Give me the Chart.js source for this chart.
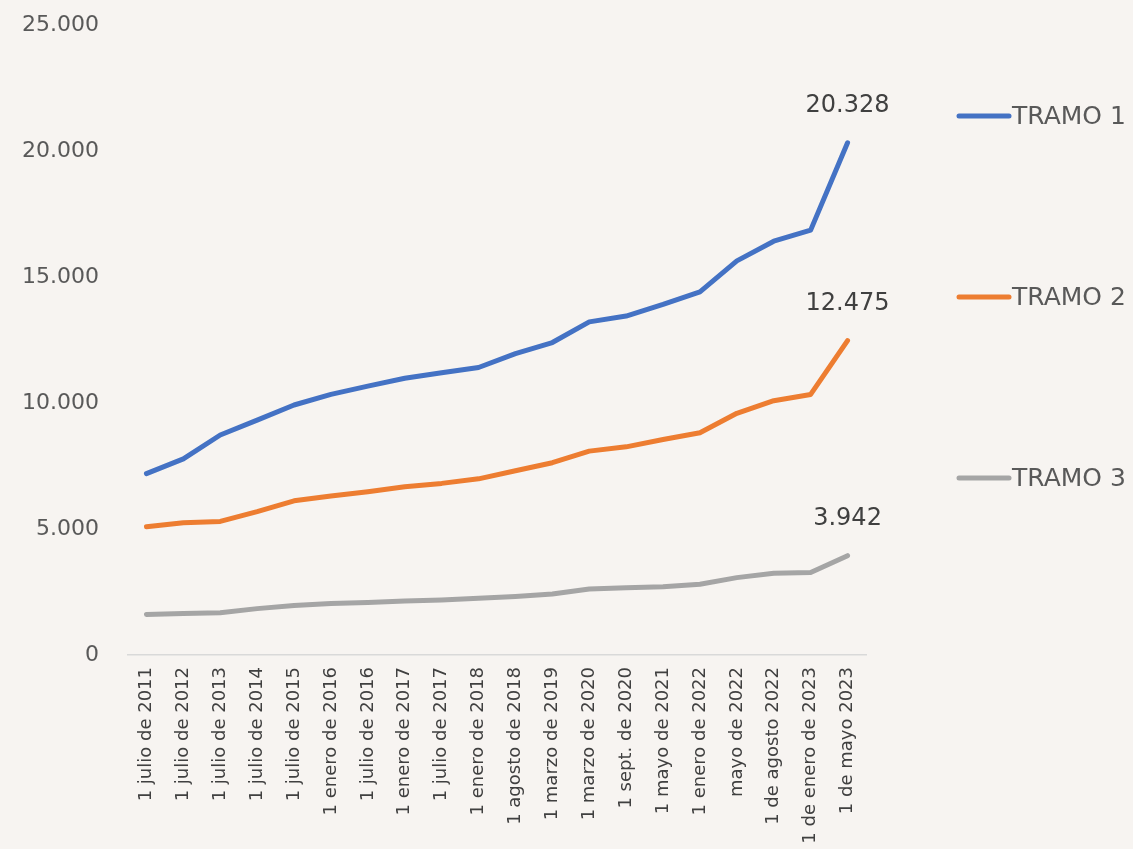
<!DOCTYPE html>
<html>
<head>
<meta charset="utf-8">
<script src="https://cdn.jsdelivr.net/npm/chart.js@4/dist/chart.umd.min.js"></script>
<style>
  html, body { margin: 0; padding: 0; background: #F7F4F1; }
  #wrap { width: 1133px; height: 849px; position: relative; }
</style>
</head>
<body>
<div id="wrap"><canvas id="chart"></canvas></div>
<script>
const labels = [
    '1 julio de 2011', '1 julio de 2012', '1 julio de 2013', '1 julio de 2014',
    '1 julio de 2015', '1 enero de 2016', '1 julio de 2016', '1 enero de 2017',
    '1 julio de 2017', '1 enero de 2018', '1 agosto de 2018', '1 marzo de 2019',
    '1 marzo de 2020', '1 sept. de 2020', '1 mayo de 2021', '1 enero de 2022',
    'mayo de 2022', '1 de agosto 2022', '1 de enero de 2023', '1 de mayo 2023'
];

const tramo1 = [7200, 7780, 8730, 9320, 9920, 10340, 10670, 10980, 11200, 11410,
    11960, 12400, 13220, 13450, 13910, 14410, 15640, 16420, 16860, 20328];
const tramo2 = [5090, 5250, 5300, 5690, 6120, 6310, 6480, 6680, 6810, 6990,
    7310, 7630, 8090, 8260, 8550, 8820, 9590, 10090, 10340, 12475];
const tramo3 = [1610, 1650, 1680, 1840, 1960, 2040, 2080, 2140, 2180, 2250,
    2320, 2420, 2620, 2670, 2710, 2810, 3070, 3240, 3270, 3942];

const seriesNames = ['TRAMO 1', 'TRAMO 2', 'TRAMO 3'];
const seriesColors = ['#4472C4', '#ED7D31', '#A5A5A5'];

const fmt = v => String(Math.round(v)).replace(/\B(?=(\d{3})+(?!\d))/g, '.');

// value label above the last point of each line
const endLabels = {
    id: 'endLabels',
    afterDatasetsDraw(chart) {
        const ctx = chart.ctx;
        ctx.save();
        ctx.font = '24px "DejaVu Sans"';
        ctx.fillStyle = '#404040';
        ctx.textAlign = 'center';
        ctx.textBaseline = 'middle';
        chart.data.datasets.forEach((ds, i) => {
            const meta = chart.getDatasetMeta(i);
            const pt = meta.data[meta.data.length - 1];
            ctx.fillText(fmt(ds.data[ds.data.length - 1]), pt.x, pt.y - 37);
        });
        ctx.restore();
    }
};

// legend drawn on the right, one entry per series
const sideLegend = {
    id: 'sideLegend',
    afterDraw(chart) {
        const ctx = chart.ctx;
        ctx.save();
        ctx.font = '25px "DejaVu Sans"';
        ctx.textBaseline = 'middle';
        chart.data.datasets.forEach((ds, i) => {
            const y = 116 + i * 181;
            ctx.strokeStyle = ds.borderColor;
            ctx.lineWidth = 5;
            ctx.lineCap = 'round';
            ctx.beginPath();
            ctx.moveTo(959, y);
            ctx.lineTo(1009, y);
            ctx.stroke();
            ctx.fillStyle = '#595959';
            ctx.fillText(ds.label, 1012, y + 1);
        });
        ctx.restore();
    }
};

const series = [tramo1, tramo2, tramo3];

new Chart(document.getElementById('chart'), {
    type: 'line',
    data: {
        labels: labels,
        datasets: series.map((d, i) => ({
            label: seriesNames[i],
            data: d,
            borderColor: seriesColors[i],
            backgroundColor: seriesColors[i],
            borderWidth: 5,
            borderCapStyle: 'round',
            borderJoinStyle: 'round',
            pointRadius: 0,
            tension: 0
        }))
    },
    options: {
        responsive: true,
        maintainAspectRatio: false,
        animation: false,
        layout: { padding: { top: 25, right: 267, bottom: 0, left: 0 } },
        plugins: {
            legend: { display: false },
            tooltip: { enabled: false }
        },
        scales: {
            x: {
                offset: true,
                grid: { display: false, drawTicks: false },
                border: { display: true, color: '#D9D9D9', width: 1.5 },
                ticks: {
                    color: '#404040',
                    font: { family: 'DejaVu Sans', size: 18 },
                    minRotation: 90,
                    maxRotation: 90,
                    autoSkip: false,
                    padding: 12
                },
                afterFit: s => { s.height = 194; }
            },
            y: {
                min: 0,
                max: 25000,
                grid: { display: false, drawTicks: false },
                border: { display: false },
                ticks: {
                    stepSize: 5000,
                    color: '#595959',
                    font: { family: 'DejaVu Sans', size: 22 },
                    padding: 29,
                    callback: v => fmt(v)
                },
                afterFit: s => {
                    s.width = 128;
                    s.paddingTop = 0;
                    s.paddingBottom = 0;
                }
            }
        }
    },
    plugins: [endLabels, sideLegend]
});
</script>
</body>
</html>
